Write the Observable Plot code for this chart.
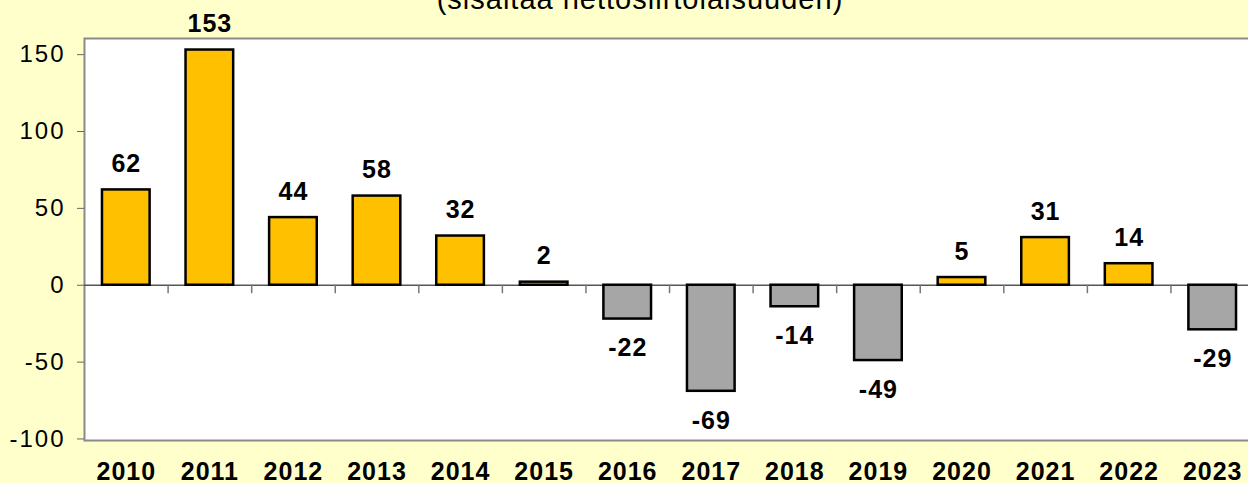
<!DOCTYPE html>
<html>
<head>
<meta charset="utf-8">
<script src="https://cdn.jsdelivr.net/npm/d3@7"></script>
<script src="https://cdn.jsdelivr.net/npm/@observablehq/plot@0.6"></script>
<style>
  html, body { margin: 0; padding: 0; background: #FFFFCC; }
  #wrap { position: relative; width: 1248px; height: 483px; overflow: hidden; }
  #title { position: absolute; left: 240px; width: 800px; top: -15px; text-align: center;
           font-family: "Liberation Sans", Arial, sans-serif; font-size: 29px; line-height: 29px;
           letter-spacing: 1px; color: #000; white-space: nowrap; }
  svg text { letter-spacing: 1px; }
  g[aria-label="y-axis tick label"] text { letter-spacing: 2px; }
</style>
</head>
<body>
<div id="wrap">
  <div id="chart"></div>
  <div id="title"></div>
</div>
<script>
const titleText = "(sisältää nettosiirtolaisuuden)";
const years = ["2010","2011","2012","2013","2014","2015","2016","2017","2018","2019","2020","2021","2022","2023"];
const values = [62, 153, 44, 58, 32, 2, -22, -69, -14, -49, 5, 31, 14, -29];
const yTicks = [-100, -50, 0, 50, 100, 150];
const posColor = "#FFC000";
const negColor = "#A6A6A6";

const data = years.map((year, i) => ({year, value: values[i]}));

document.getElementById("title").textContent = titleText;

const font = "Liberation Sans, Arial, sans-serif";

const chart = Plot.plot({
  width: 1248,
  height: 483,
  marginLeft: 84,
  marginRight: -6,
  marginTop: 38,
  marginBottom: 43,
  style: {background: "#FFFFCC", fontFamily: font},
  x: {domain: years, paddingInner: 0.43, paddingOuter: 0.215, round: false, label: null},
  y: {domain: [-101, 160.5], label: null},
  color: {type: "identity"},
  marks: [
    Plot.frame({fill: "white", stroke: "#8a8a8a", strokeWidth: 2}),
    Plot.ruleY([0], {stroke: "#555", strokeWidth: 1.5}),
    Plot.ruleX(years.slice(1), {x: d => d, y1: 0, y2: -5.5, dx: -41.75, stroke: "#777", strokeWidth: 1.5}),
    Plot.barY(data, {x: "year", y: "value", fill: d => d.value >= 0 ? posColor : negColor, stroke: "black", strokeWidth: 2.5}),
    Plot.text(data.filter(d => d.value >= 0), {x: "year", y: "value", text: d => String(d.value),
      lineAnchor: "bottom", dy: -18, fontWeight: "bold", fontSize: 25, fill: "black"}),
    Plot.text(data.filter(d => d.value < 0), {x: "year", y: "value", text: d => String(d.value),
      lineAnchor: "top", dy: 19.5, fontWeight: "bold", fontSize: 25, fill: "black"}),
    Plot.axisY(yTicks, {tickSize: 7, tickPadding: 12, fontSize: 24, stroke: "#666", fill: "black", label: null, tickFormat: d => String(d)}),
    Plot.axisX({tickSize: 0, tickPadding: 22, fontSize: 25, fontWeight: "bold", fill: "black", label: null})
  ]
});
document.getElementById("chart").appendChild(chart);
</script>
</body>
</html>
